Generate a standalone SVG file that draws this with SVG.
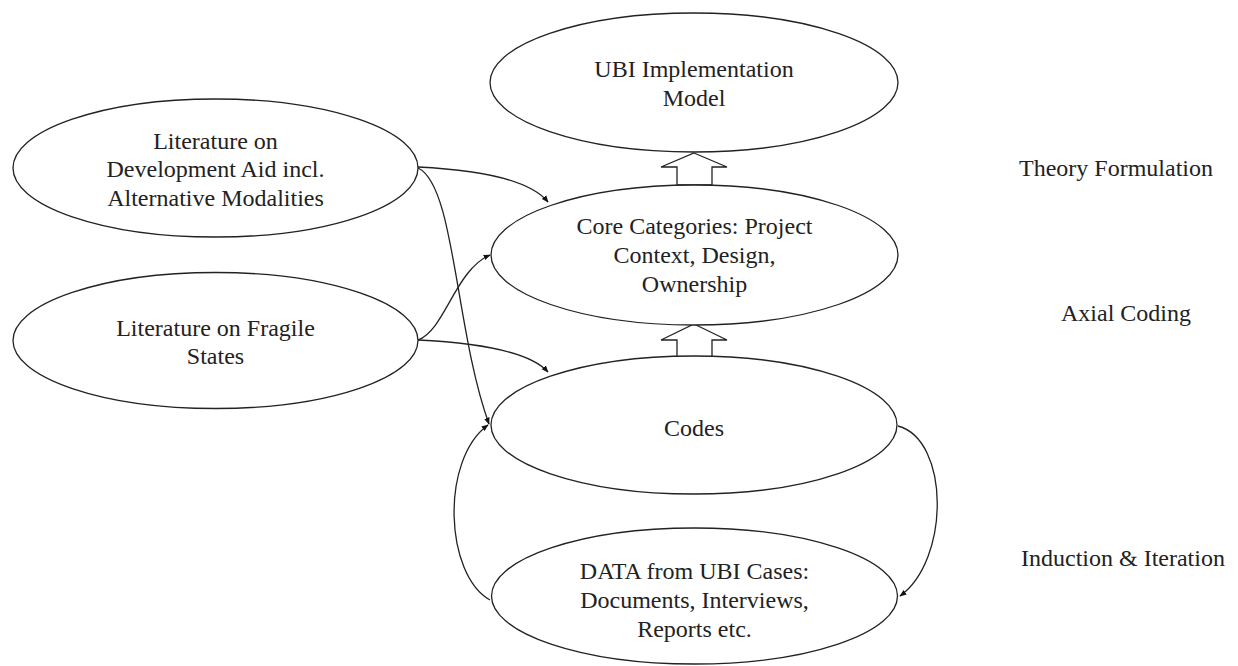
<svg xmlns="http://www.w3.org/2000/svg" width="1238" height="666" viewBox="0 0 1238 666">
  <style>
    .node { fill: #ffffff; stroke: #222222; stroke-width: 1.3; }
    .lbl { font-family: "Liberation Serif", "Times New Roman", serif; font-size: 24px; fill: #222222; text-anchor: middle; }
    .edge { fill: none; stroke: #222222; stroke-width: 1.3; }
    .block { fill: #ffffff; stroke: #222222; stroke-width: 1.3; }
  </style>
  <defs>
    <marker id="tip" viewBox="0 0 10 10" refX="9" refY="5" markerWidth="7" markerHeight="7" markerUnits="userSpaceOnUse" orient="auto">
      <path d="M0,1 L10,5 L0,9 Z" fill="#111111"/>
    </marker>
  </defs>

  <rect width="1238" height="666" fill="#ffffff"/>

  <!-- stage labels -->
  <g id="stages">
    <text class="lbl" x="1116" y="176">Theory Formulation</text>
    <text class="lbl" x="1126" y="321">Axial Coding</text>
    <text class="lbl" x="1123" y="566">Induction &amp; Iteration</text>
  </g>

  <!-- connectors -->
  <g id="connectors">
    <path class="edge" d="M418,167 C480,170 530,180 548,202" marker-end="url(#tip)"/>
    <path class="edge" d="M418,168 C455,185 455,330 489,424" marker-end="url(#tip)"/>
    <path class="edge" d="M418,340 C445,330 455,270 490,255" marker-end="url(#tip)"/>
    <path class="edge" d="M418,340 C480,343 530,352 548,372" marker-end="url(#tip)"/>
    <path class="edge" d="M898,426 C950,440 950,560 900,596" marker-end="url(#tip)"/>
    <path class="edge" d="M490,600 C445,575 440,460 488,425" marker-end="url(#tip)"/>
    <polygon class="block" points="694,153 727,167 712,167 712,185 677,185 677,167 661,167"/>
    <polygon class="block" points="694,324 727,340 712,340 712,357 677,357 677,340 661,340"/>
  </g>

  <g id="ubi-model">
    <ellipse class="node" cx="694" cy="82.5" rx="204" ry="69.5"/>
    <text class="lbl" x="694" y="77">UBI Implementation</text>
    <text class="lbl" x="694" y="106">Model</text>
  </g>

  <g id="lit-development-aid">
    <ellipse class="node" cx="215.5" cy="168" rx="202.5" ry="69"/>
    <text class="lbl" x="215.5" y="149">Literature on</text>
    <text class="lbl" x="215.5" y="177">Development Aid incl.</text>
    <text class="lbl" x="215.5" y="206">Alternative Modalities</text>
  </g>

  <g id="lit-fragile-states">
    <ellipse class="node" cx="215.5" cy="340.5" rx="202.5" ry="68"/>
    <text class="lbl" x="215.5" y="336">Literature on Fragile</text>
    <text class="lbl" x="215.5" y="364">States</text>
  </g>

  <g id="core-categories">
    <ellipse class="node" cx="694.5" cy="255" rx="203.5" ry="70"/>
    <text class="lbl" x="694.5" y="234">Core Categories: Project</text>
    <text class="lbl" x="694.5" y="263">Context, Design,</text>
    <text class="lbl" x="694.5" y="292">Ownership</text>
  </g>

  <g id="codes">
    <ellipse class="node" cx="694" cy="425" rx="203" ry="69"/>
    <text class="lbl" x="694" y="436">Codes</text>
  </g>

  <g id="data">
    <ellipse class="node" cx="694.5" cy="596" rx="203" ry="68"/>
    <text class="lbl" x="694.5" y="579">DATA from UBI Cases:</text>
    <text class="lbl" x="694.5" y="608">Documents, Interviews,</text>
    <text class="lbl" x="694.5" y="637">Reports etc.</text>
  </g>
</svg>
